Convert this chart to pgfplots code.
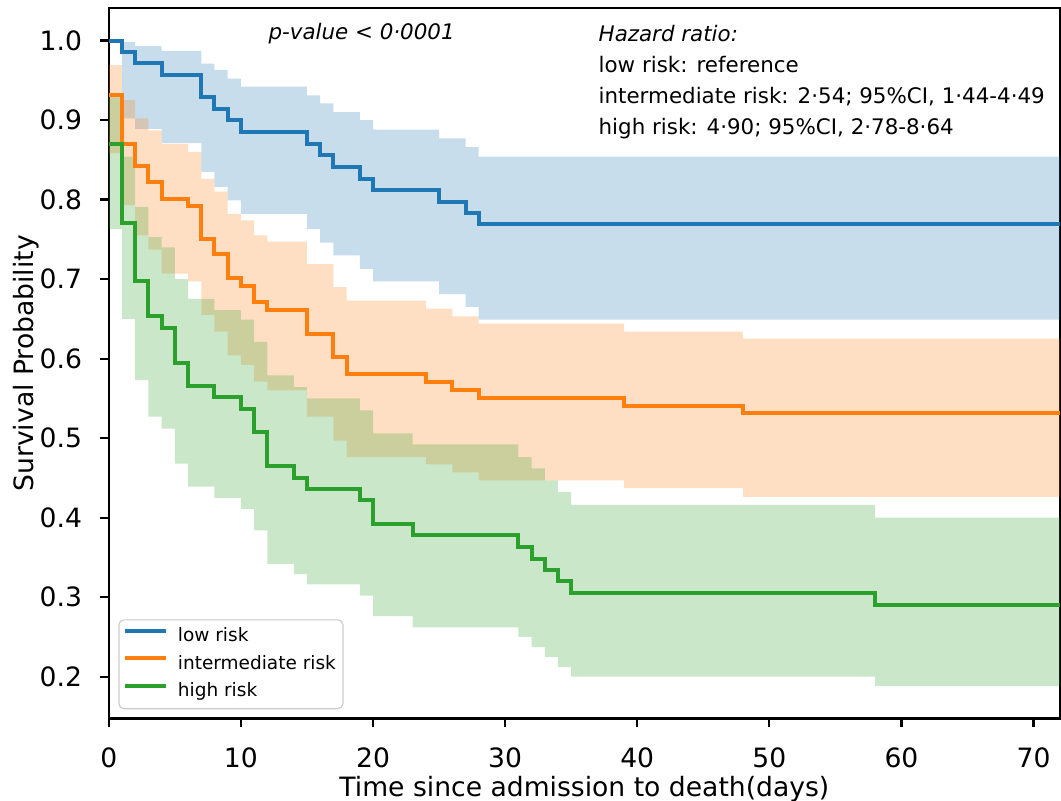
\documentclass[border=0pt]{standalone}
\usepackage{fontspec}
\setmainfont{DejaVu Sans}
\usepackage{pgfplots}
\pgfplotsset{compat=1.18}
\usepgfplotslibrary{fillbetween}
\usepackage{pgfplotstable}

\definecolor{cblue}{HTML}{1F77B4}
\definecolor{corange}{HTML}{FF7F0E}
\definecolor{cgreen}{HTML}{2CA02C}

\pgfplotstableread{
t S L U
0 1.000 1.000 1.000
1 0.986 0.902 0.998
2 0.972 0.889 0.993
4 0.957 0.871 0.987
7 0.929 0.835 0.971
8 0.914 0.816 0.963
9 0.900 0.799 0.952
10 0.885 0.782 0.942
15 0.870 0.763 0.931
16 0.856 0.746 0.921
17 0.841 0.730 0.910
19 0.826 0.713 0.900
20 0.812 0.697 0.888
25 0.797 0.681 0.877
27 0.783 0.665 0.866
28 0.769 0.649 0.854
72 0.769 0.649 0.854
}\lowtab

\pgfplotstableread{
t S L U
0 0.931 0.858 0.969
1 0.870 0.793 0.925
2 0.842 0.755 0.902
3 0.822 0.737 0.887
4 0.801 0.707 0.870
6 0.792 0.697 0.860
7 0.751 0.655 0.826
8 0.731 0.634 0.810
9 0.702 0.604 0.782
10 0.691 0.592 0.774
11 0.671 0.571 0.755
12 0.661 0.560 0.747
15 0.631 0.527 0.719
17 0.602 0.497 0.690
18 0.581 0.476 0.673
24 0.571 0.467 0.663
26 0.561 0.457 0.653
28 0.551 0.447 0.644
39 0.541 0.437 0.634
48 0.531 0.426 0.625
72 0.531 0.426 0.625
}\midtab

\pgfplotstableread{
t S L U
0 0.870 0.763 0.931
1 0.770 0.650 0.854
2 0.697 0.573 0.791
3 0.654 0.527 0.753
4 0.639 0.512 0.740
5 0.595 0.468 0.700
6 0.566 0.439 0.675
8 0.552 0.425 0.661
10 0.537 0.411 0.649
11 0.508 0.384 0.621
12 0.465 0.342 0.579
14 0.450 0.329 0.564
15 0.436 0.316 0.550
19 0.422 0.302 0.535
20 0.392 0.276 0.506
23 0.378 0.262 0.492
31 0.363 0.250 0.476
32 0.348 0.237 0.462
33 0.334 0.225 0.447
34 0.320 0.212 0.432
35 0.305 0.200 0.416
58 0.290 0.188 0.400
72 0.290 0.188 0.400
}\hightab

\begin{document}
\begin{tikzpicture}
\begin{axis}[
  scale only axis, width=475.6pt, height=355.1pt,
  xmin=0, xmax=72, ymin=0.1474, ymax=1.0406,
  xtick={0,10,20,30,40,50,60,70},
  ytick={0.2,0.3,0.4,0.5,0.6,0.7,0.8,0.9,1.0},
  /pgf/number format/assume math mode=true,
  tick label style={font=\fontsize{13.3}{16}\selectfont},
  yticklabel style={/pgf/number format/fixed, /pgf/number format/fixed zerofill,
    /pgf/number format/precision=1, inner sep=0pt, xshift=-9pt},
  xticklabel style={inner sep=0pt, yshift=-10.3pt},
  label style={font=\fontsize{13.3}{16}\selectfont},
  xlabel={Time since admission to death(days)},
  ylabel={Survival Probability},
  xlabel style={inner sep=0pt, yshift=-4pt},
  ylabel style={inner sep=0pt, yshift=0.2pt},
  tick align=outside, tick pos=left,
  major tick length=4.2pt,
  tick style={black, line width=1.1pt},
  axis line style={line width=1.2pt},
  clip mode=individual,
  legend style={at={(0.010,0.013)}, anchor=south west, draw=black!20, line width=0.6pt,
    rounded corners=2.5pt, fill=white, fill opacity=0.8, text opacity=1,
    font=\fontsize{9.25}{11}\selectfont, inner xsep=2pt, inner ysep=2pt, row sep=0.7pt,
    column sep=3.5pt,
    nodes={inner sep=1.5pt, text depth=0.25em, text height=0.75em}},
  legend cell align=left,
  legend image code/.code={\draw[#1, line width=2pt] (0pt,0.3em) -- (20.5pt,0.3em);},
]
\coordinate (SW) at (rel axis cs:0,0);
\coordinate (NE) at (rel axis cs:1,1);

% low risk
\addplot[const plot, draw=none, name path=bU, forget plot] table[x=t,y=U] {\lowtab};
\addplot[const plot, draw=none, name path=bL, forget plot] table[x=t,y=L] {\lowtab};
\addplot[fill=cblue, fill opacity=0.25, draw=none, forget plot] fill between[of=bU and bL];
\addplot[const plot, cblue, line width=2pt] table[x=t,y=S] {\lowtab};
\addlegendentry{low risk}

% intermediate risk
\addplot[const plot, draw=none, name path=oU, forget plot] table[x=t,y=U] {\midtab};
\addplot[const plot, draw=none, name path=oL, forget plot] table[x=t,y=L] {\midtab};
\addplot[fill=corange, fill opacity=0.25, draw=none, forget plot] fill between[of=oU and oL];
\addplot[const plot, corange, line width=2pt] table[x=t,y=S] {\midtab};
\addlegendentry{intermediate risk}

% high risk
\addplot[const plot, draw=none, name path=gU, forget plot] table[x=t,y=U] {\hightab};
\addplot[const plot, draw=none, name path=gL, forget plot] table[x=t,y=L] {\hightab};
\addplot[fill=cgreen, fill opacity=0.25, draw=none, forget plot] fill between[of=gU and gL];
\addplot[const plot, cgreen, line width=2pt] table[x=t,y=S] {\hightab};
\addlegendentry{high risk}

\node[anchor=base west, inner sep=0pt, font=\fontsize{10.7}{12}\selectfont\itshape] at (axis cs:12.06,1.001) {p-value < 0·0001};
\node[anchor=base west, inner sep=0pt, font=\fontsize{10.7}{12}\selectfont\itshape] at (axis cs:37.05,0.9992) {Hazard ratio:};
\node[anchor=base west, inner sep=0pt, font=\fontsize{10.7}{12}\selectfont] at (axis cs:37.05,0.9603) {low risk: reference};
\node[anchor=base west, inner sep=0pt, font=\fontsize{10.7}{12}\selectfont] at (axis cs:37.05,0.9213) {intermediate risk: 2·54; 95\%CI, 1·44-4·49};
\node[anchor=base west, inner sep=0pt, font=\fontsize{10.7}{12}\selectfont] at (axis cs:37.05,0.8824) {high risk: 4·90; 95\%CI, 2·78-8·64};
\end{axis}
\pgfresetboundingbox
\path[use as bounding box] ([shift={(-54.4pt,-41.25pt)}]SW) rectangle ([shift={(0.5pt,4.15pt)}]NE);
\end{tikzpicture}
\end{document}
